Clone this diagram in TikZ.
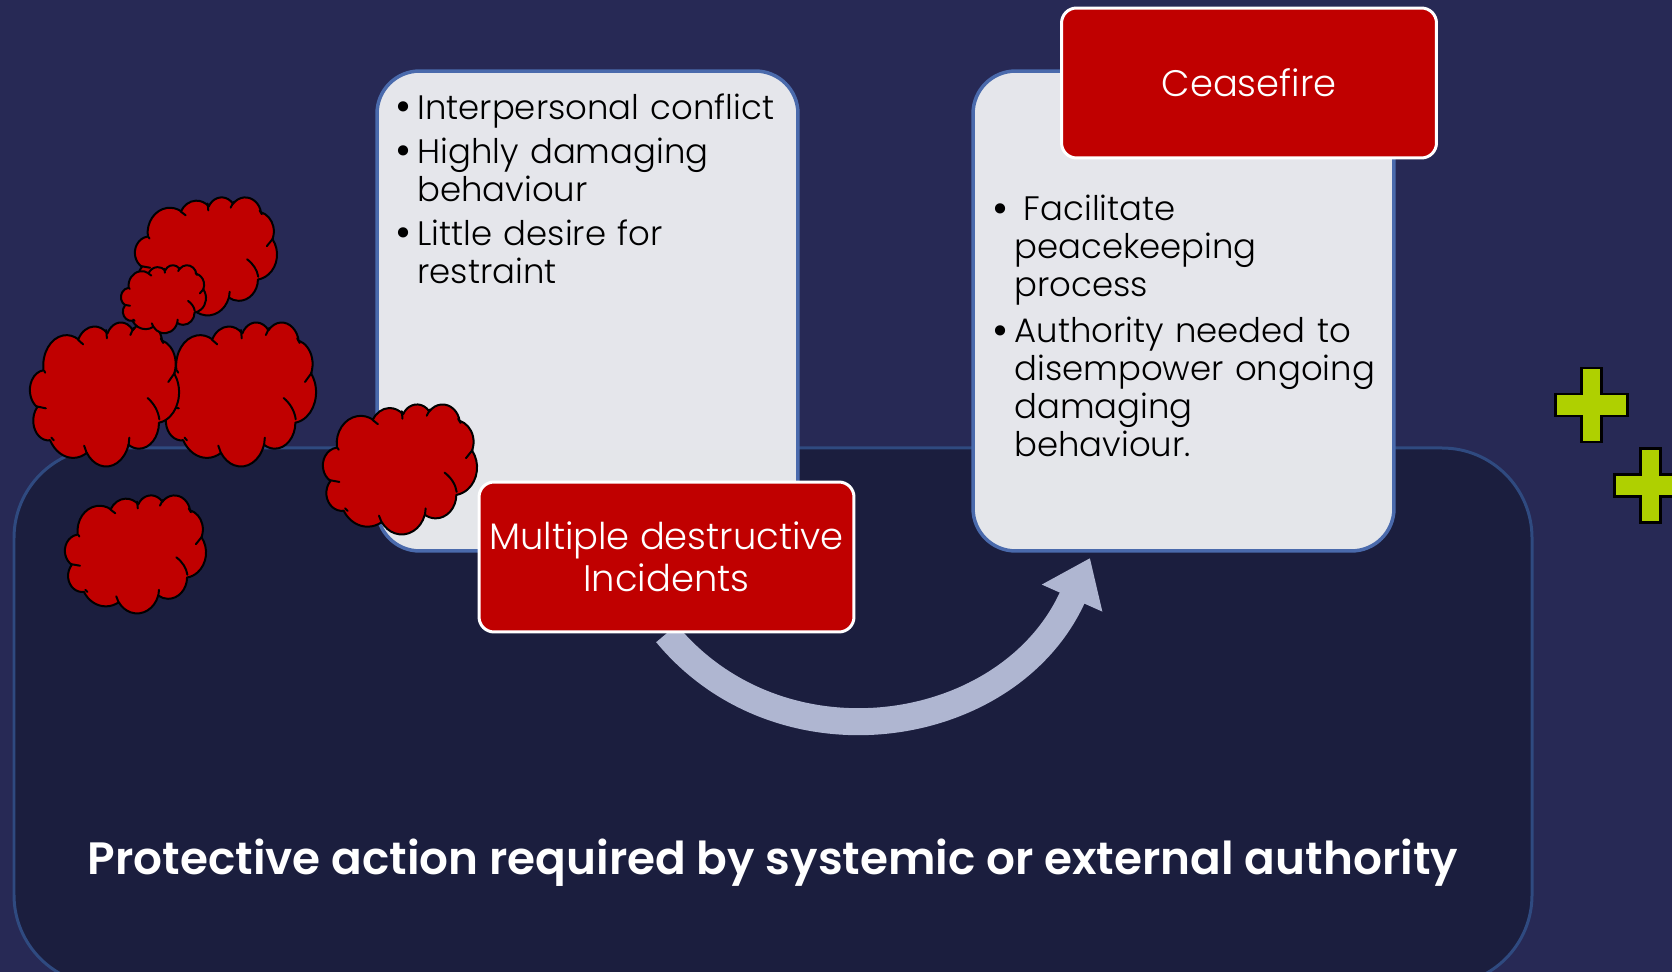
\documentclass[tikz,border=0pt]{standalone}
\usepackage{fontspec}
\setmainfont{Poppins Light}[BoldFont={Poppins SemiBold}]
\usetikzlibrary{arrows.meta}
\pgfdeclarelayer{front}
\pgfsetlayers{main,front}
\definecolor{slidebg}{HTML}{272955}
\definecolor{panelfill}{HTML}{1B1E3E}
\definecolor{panelline}{HTML}{2F4A80}
\definecolor{boxfill}{HTML}{E9EAEE}
\definecolor{boxline}{HTML}{4A6AAC}
\definecolor{alarmred}{HTML}{C00000}
\definecolor{arrowblue}{HTML}{AFB6D1}
\definecolor{pluslime}{HTML}{AFD000}
\newcommand{\lobe}[4]{arc[x radius=#1,y radius=#2,start angle=#3,delta angle=#4]}
\newcommand{\redcloud}[4]{
	\begin{scope}[shift={(#1,#2)},x={#3*0.02cm/432},y={-#4*0.02cm/432}]
		\draw[fill=alarmred,draw=black,line width=0.04cm,line join=round] (39,143.7)
			\lobe{67.53}{91.90}{-187.745}{128.125} \lobe{53.33}{72.67}{-152.02}{106.58}
			\lobe{43.65}{59.45}{-153.48}{116.15} \lobe{48.57}{65.95}{-139.71}{129.50}
			\lobe{53.33}{72.73}{-74.74}{97.95} \lobe{67.75}{92.20}{-37.53}{119.39}
			\lobe{57.85}{78.67}{0.46}{121.54} \lobe{67.52}{92.15}{16.84}{129.40}
			\lobe{77.20}{105.43}{59.01}{91.17} \lobe{43.60}{59.18}{-276.69}{139.79}
			\lobe{43.45}{59.45}{-239.65}{143.77} -- cycle;
		\draw[draw=black,line width=0.04cm,line cap=round] (341,228) .. controls (360,245) and (372,268) .. (375,292)
			(18,253) -- (46,259) (41,146) -- (44,152) (139,53) -- (154,67) (221,24) -- (223,49) (300,18) -- (291,39)
			(379,49) -- (386,63) (420,152) -- (401,180) (288,347) -- (286,368) (157,371) -- (165,395) (62,347) -- (69,355);
	\end{scope}
}
\newcommand{\plusmark}[2]{
	\draw[fill=pluslime,draw=black,line width=0.05cm] (#1,#2) ++(-10,-37) -- ++(20,0) -- ++(0,26) -- ++(26,0) -- ++(0,22) -- ++(-26,0) -- ++(0,26) -- ++(-20,0) -- ++(0,-26) -- ++(-26,0) -- ++(0,-22) -- ++(26,0) -- cycle;
}
\newcommand{\bulletline}[1]{\hangindent=12pt\hangafter=1\makebox[12pt][l]{\makebox[8pt][c]{\raisebox{-1.5pt}{\fontsize{25}{0}\selectfont\textbullet}}}#1\par}
\begin{document}
\begin{tikzpicture}[x=0.02cm,y=-0.02cm]
	\tikzstyle{panel}=[draw=boxline,fill=boxfill,fill opacity=0.98,line width=0.07cm,minimum width=8.42cm,minimum height=9.6cm,inner sep=0pt,rounded corners=0.85cm]
	\tikzstyle{alarm}=[rounded corners=0.3cm,draw=white,fill=alarmred,line width=0.06cm,minimum width=7.5cm,minimum height=3cm,text=white,align=center,font=\fontsize{21}{23.8}\selectfont]
	\tikzstyle{points}=[anchor=north west,text width=8cm,inner sep=0pt,align=left,text=black,font=\fontsize{19.3}{21.6}\selectfont]
	\fill[slidebg] (0,0) rectangle (1672,972);
	\useasboundingbox (0,0) rectangle (1672,972);
	\draw[fill=panelfill,draw=panelline,line width=0.06cm,rounded corners=1.8cm] (14,448) rectangle (1532,985);
	\node[panel](conflict) at (587.5,311) {};
	\node[panel](peace) at (1183.5,311) {};
	\coordinate(tip) at (1090,558);
	\begin{pgfonlayer}{front}
		\node[alarm](incidents) at (666.5,557) {Multiple destructive\\Incidents};
		\node[alarm](ceasefire) at (1249,83) {Ceasefire};
	\end{pgfonlayer}
	\node[points](conflicttext) at (396,93) {\setlength{\parskip}{3.5pt}\bulletline{Interpersonal conflict}\bulletline{Highly damaging\newline behaviour}\bulletline{Little desire for\newline restraint}};
	\node[points](peacetext) at (993,195) {\setlength{\parskip}{4.5pt}\bulletline{\hspace{5.4pt}Facilitate\newline peacekeeping\newline process}\bulletline{Authority needed to\newline disempower ongoing\newline damaging\newline behaviour.}};
	\node[text=white,font=\fontsize{25.8}{28}\selectfont\bfseries](protect) at (773,863) {Protective action required by systemic or external authority};
	\draw[arrowblue,line width=0.54cm,-{Triangle[length=25pt,width=36pt]}] (incidents.south) .. controls (782,773) and (1010,737) .. (tip);
	\redcloud{135}{197}{142}{118}
	\redcloud{162.5}{322}{153.5}{144}
	\redcloud{30}{322}{149}{144}
	\redcloud{121}{265}{85}{68}
	\redcloud{323}{404}{154}{130}
	\redcloud{65}{495}{141}{118}
	\plusmark{1591.5}{405}
	\plusmark{1650.5}{485.5}
\end{tikzpicture}
\end{document}
